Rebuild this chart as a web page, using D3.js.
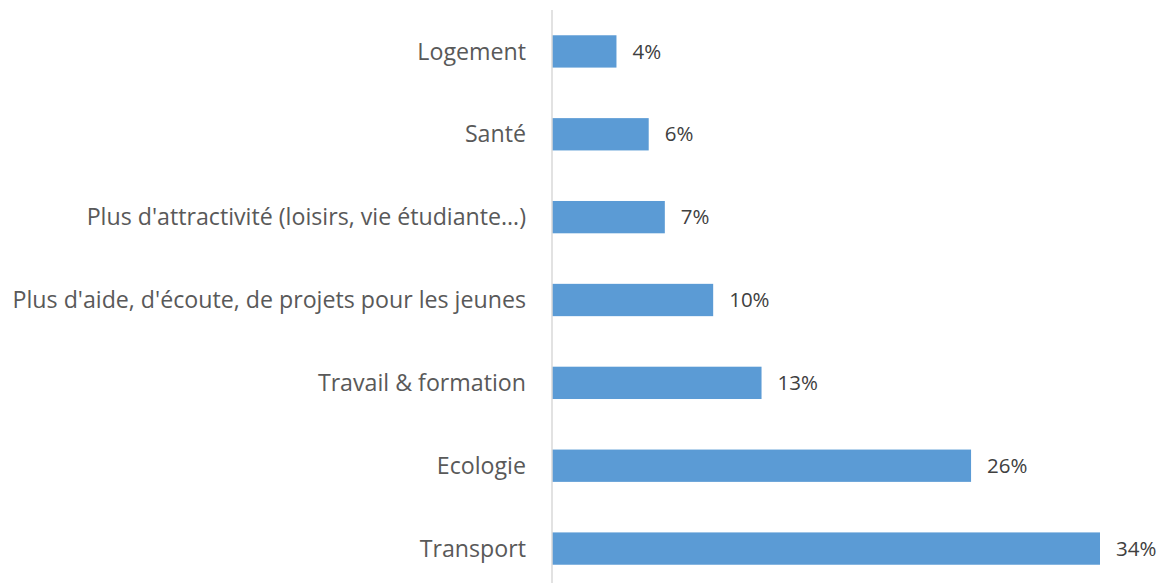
<!DOCTYPE html>
<html>
<head>
<meta charset="utf-8">
<script src="https://cdn.jsdelivr.net/npm/d3@7"></script>
<style>
  html, body { margin: 0; padding: 0; background: #fff; }
  svg { display: block; }
  text { font-family: "Open Sans", "Noto Sans", sans-serif; }
</style>
</head>
<body>
<svg id="chart" width="1165" height="583"></svg>
<script>
// Survey themes, top to bottom
const categories = [
  "Logement",
  "Santé",
  "Plus d'attractivité (loisirs, vie étudiante…)",
  "Plus d'aide, d'écoute, de projets pour les jeunes",
  "Travail & formation",
  "Ecologie",
  "Transport"
];
// Share of responses, in percent
const values = [4, 6, 7, 10, 13, 26, 34];

const svg = d3.select("#chart");
const axisX = 552;

const y = d3.scaleBand()
  .domain(categories)
  .range([10, 590])
  .paddingInner(0.61)
  .paddingOuter(0.305);

const x = d3.scaleLinear()
  .domain([0, 34])
  .range([axisX, 1100]);

// Bars
svg.append("g")
  .selectAll("rect")
  .data(categories)
  .join("rect")
  .attr("x", axisX)
  .attr("y", d => y(d))
  .attr("width", (d, i) => x(values[i]) - axisX)
  .attr("height", y.bandwidth())
  .attr("fill", "#5B9BD5");

// Vertical category axis
svg.append("line")
  .attr("x1", axisX).attr("x2", axisX)
  .attr("y1", 10).attr("y2", 583)
  .attr("stroke", "#D9D9D9")
  .attr("stroke-width", 1.5);

// Category labels
svg.append("g")
  .selectAll("text")
  .data(categories)
  .join("text")
  .attr("x", axisX - 26)
  .attr("y", d => y(d) + y.bandwidth() / 2)
  .attr("dy", "0.35em")
  .attr("text-anchor", "end")
  .attr("font-size", 23.2)
  .attr("fill", "#595959")
  .text(d => d);

// Value labels
svg.append("g")
  .selectAll("text")
  .data(categories)
  .join("text")
  .attr("x", (d, i) => x(values[i]) + 16)
  .attr("y", d => y(d) + y.bandwidth() / 2)
  .attr("dy", "0.35em")
  .attr("font-size", 20.5)
  .attr("fill", "#404040")
  .text((d, i) => values[i] + "%");
</script>
</body>
</html>
